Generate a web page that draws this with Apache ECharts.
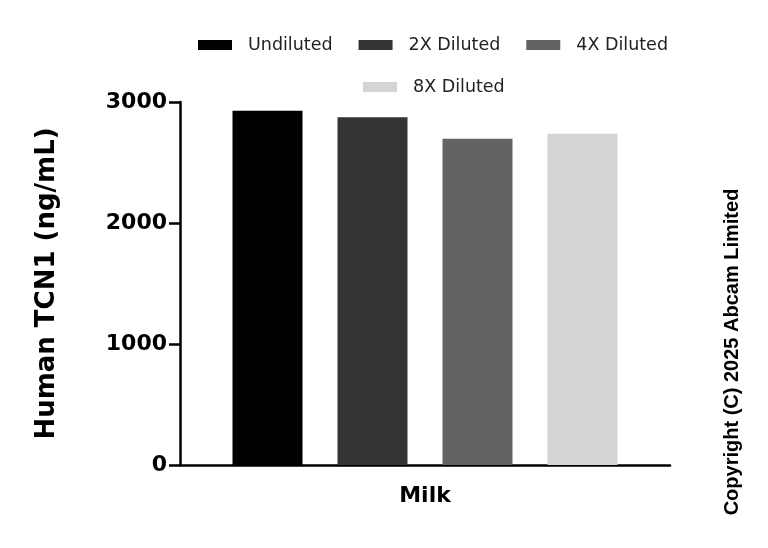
<!DOCTYPE html>
<html>
<head>
<meta charset="utf-8">
<script src="https://cdn.jsdelivr.net/npm/echarts@6/dist/echarts.min.js"></script>
<style>html,body{margin:0;padding:0;background:#fff}#c{width:768px;height:548px}</style>
</head>
<body>
<div id="c"></div>
<script>
const categories = ['Milk'];
const seriesNames = ['Undiluted', '2X Diluted', '4X Diluted', '8X Diluted'];
const undiluted = [2928];
const diluted2x = [2873];
const diluted4x = [2697];
const diluted8x = [2738];
const yTicks = [0, 1000, 2000, 3000];
const colors = ['#000000', '#333333', '#636363', '#d4d4d4'];
const values = [undiluted, diluted2x, diluted4x, diluted8x];

const FONT = 'DejaVu Sans';
const chart = echarts.init(document.getElementById('c'));
const legendText = {fontFamily: FONT, fontSize: 17.5, color: '#222', padding: [0, 0, 0, 11]};
chart.setOption({
  animation: false,
  backgroundColor: '#fff',
  legend: [
    {data: seriesNames.slice(0, 3), left: 193, top: 31, itemWidth: 34, itemHeight: 10, itemGap: 26, icon: 'rect', textStyle: legendText},
    {data: seriesNames.slice(3), left: 358, top: 73, itemWidth: 34, itemHeight: 10, itemGap: 26, icon: 'rect', textStyle: legendText}
  ],
  grid: {left: 180, right: 98, top: 102, bottom: 83, containLabel: false},
  xAxis: {
    type: 'category', data: categories,
    axisLine: {lineStyle: {color: '#000', width: 2.5}},
    axisTick: {alignWithLabel: true, length: 8, lineStyle: {color: '#000', width: 2.5}},
    axisLabel: {fontFamily: FONT, fontWeight: 'bold', fontSize: 22, color: '#000', margin: 20}
  },
  yAxis: {
    type: 'value', min: yTicks[0], max: yTicks[yTicks.length - 1], interval: 1000,
    name: 'Human TCN1 (ng/mL)', nameLocation: 'middle', nameGap: 120,
    nameTextStyle: {fontFamily: FONT, fontWeight: 'bold', fontSize: 26, color: '#000'},
    axisLine: {show: true, lineStyle: {color: '#000', width: 2.5}},
    axisTick: {show: true, length: 11, lineStyle: {color: '#000', width: 2.5}},
    axisLabel: {fontFamily: FONT, fontWeight: 'bold', fontSize: 22, color: '#000', margin: 13, formatter: v => String(v)},
    splitLine: {show: false}
  },
  series: seriesNames.map((n, i) => ({
    name: n, type: 'bar', data: values[i], barWidth: 70, barGap: '50%',
    itemStyle: {color: colors[i]}
  })),
  graphic: [{
    type: 'text', x: 732, y: 352, rotation: Math.PI / 2,
    style: {text: 'Copyright (C) 2025 Abcam Limited', fontFamily: 'Liberation Sans', fontWeight: 'bold', fontSize: 20, fill: '#000', align: 'center', verticalAlign: 'middle'}
  }]
});
</script>
</body>
</html>
